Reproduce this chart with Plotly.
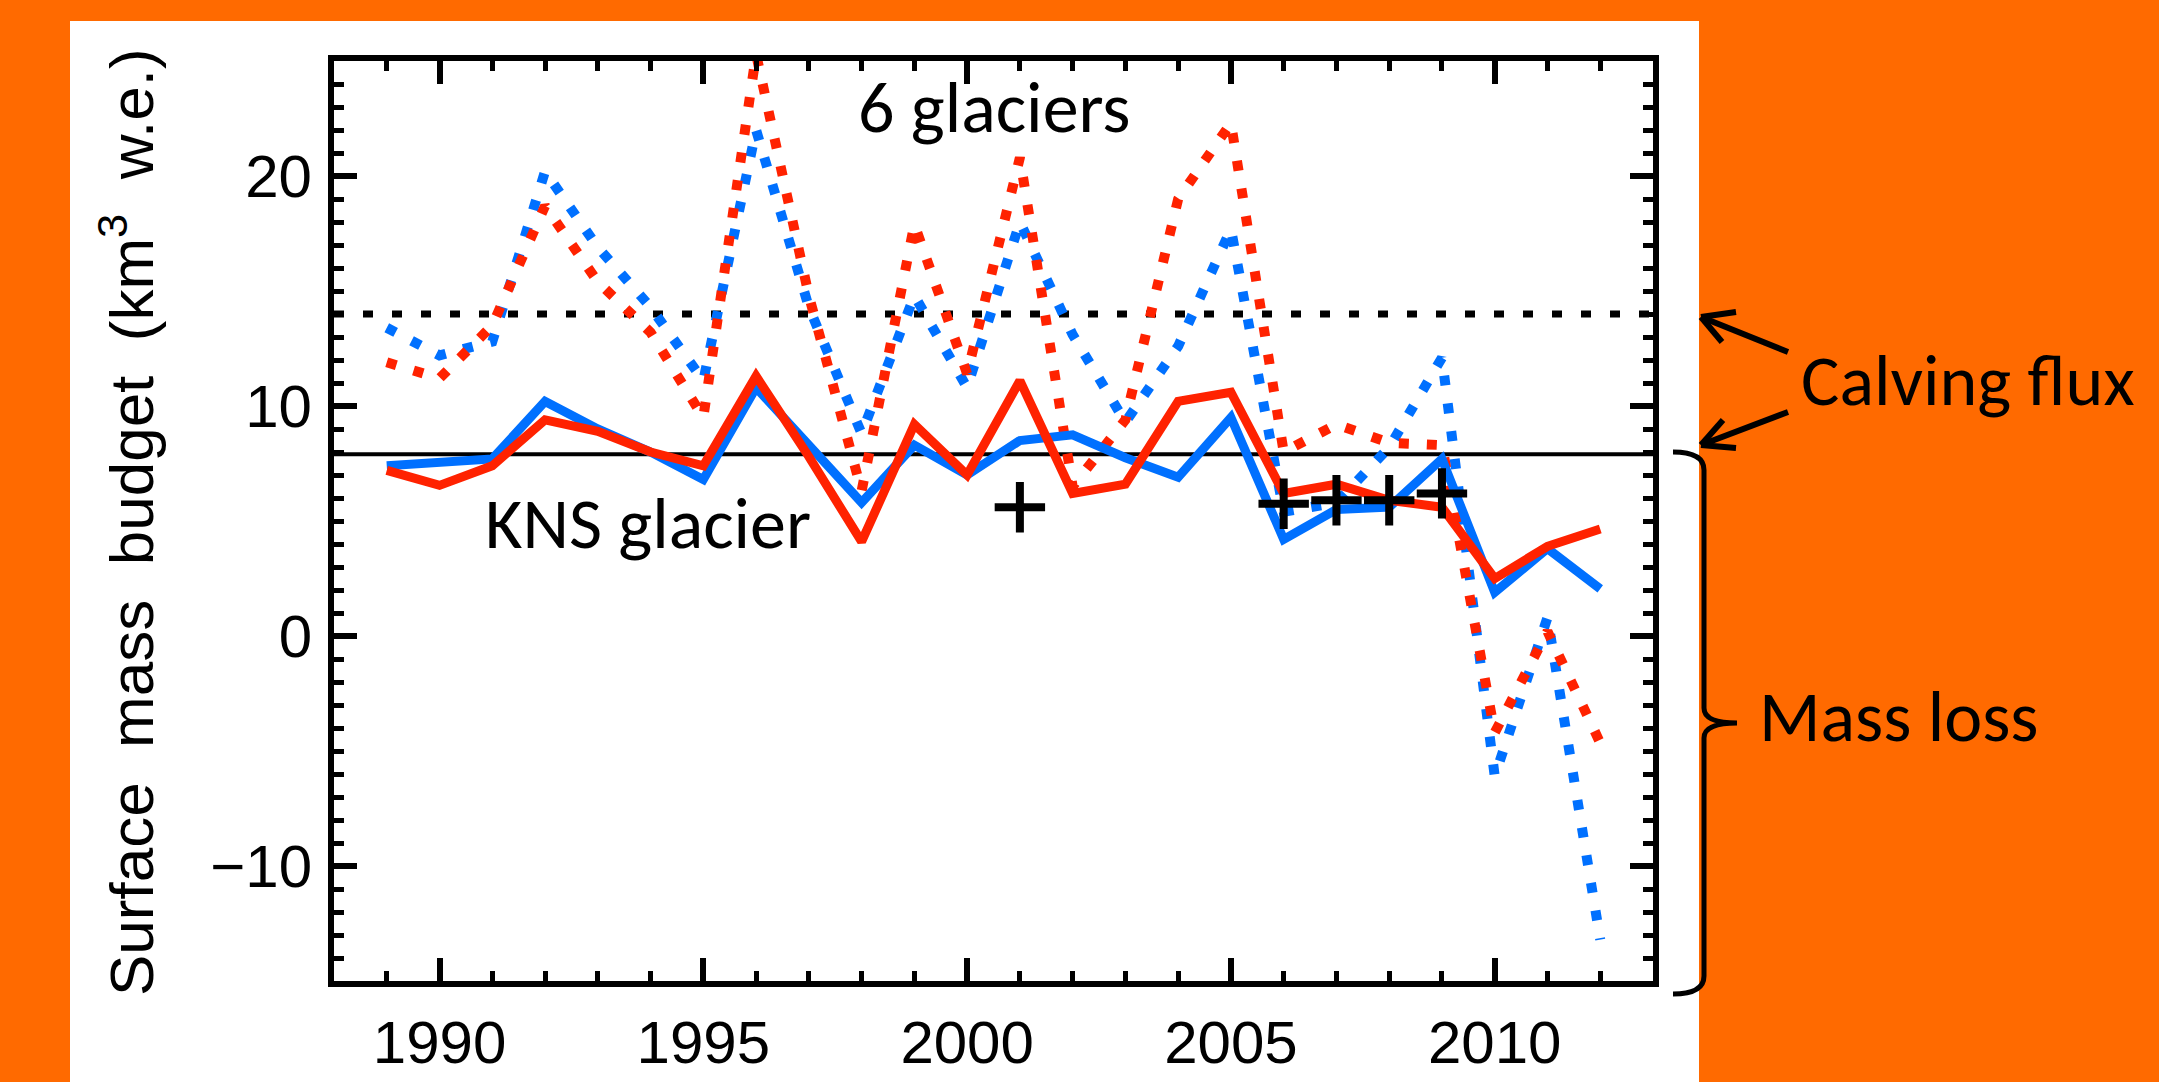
import plotly.graph_objects as go

# ---------------- data ----------------
years = list(range(1989, 2013))

kns_model_a = [7.4, 7.55, 7.7, 10.2, 9.0, 8.0, 6.8, 10.8, 8.3, 5.8, 8.3, 7.0,
               8.5, 8.75, 7.75, 6.9, 9.5, 4.2, 5.5, 5.6, 7.7, 1.9, 3.8, 2.05]
kns_model_b = [7.2, 6.55, 7.4, 9.4, 8.9, 8.0, 7.4, 11.3, 7.8, 4.1, 9.2, 7.0,
               11.1, 6.2, 6.6, 10.2, 10.6, 6.2, 6.6, 5.9, 5.6, 2.5, 3.9, 4.65]
six_model_a = [13.4, 12.2, 12.8, 20.2, 16.9, 14.3, 11.1, 22.0, 14.3, 8.8, 14.8, 10.8,
               18.0, 13.1, 9.3, 12.6, 17.7, 5.4, 5.8, 8.2, 12.1, -6.1, 0.8, -13.2]
six_model_b = [11.9, 11.2, 13.5, 18.7, 15.4, 13.2, 9.5, 25.3, 14.8, 6.3, 17.9, 11.4,
               20.8, 6.5, 9.4, 19.0, 22.3, 8.0, 9.2, 8.4, 8.3, -4.2, 0.2, -4.65]

obs_years = [2001, 2006, 2007, 2008, 2009]
obs_values = [5.6, 5.75, 5.9, 5.9, 6.2]

calving_six = 14.0
calving_kns = 7.9

x_range = [1988, 2013]
y_range = [-15, 25]
x_ticks = [1990, 1995, 2000, 2005, 2010]
y_ticks = [-10, 0, 10, 20]

# ---------------- style ----------------
BLUE = "#0070FF"
RED = "#FF2200"
ORANGE = "#FF6A00"
W, H = 2159, 1082
L, R, T, B = 334, 1653, 61, 981
PW, PH = R - L, B - T


def fx(px):
    return (px - L) / PW


def fy(py):
    return (B - py) / PH


fig = go.Figure()

# reference calving-flux lines
fig.add_trace(go.Scatter(x=x_range, y=[calving_six] * 2, mode="lines",
                         line=dict(color="black", width=7, dash="10px,19px"),
                         showlegend=False, hoverinfo="skip"))
fig.add_trace(go.Scatter(x=x_range, y=[calving_kns] * 2, mode="lines",
                         line=dict(color="black", width=4),
                         showlegend=False, hoverinfo="skip"))

# 6 glaciers (dotted)
fig.add_trace(go.Scatter(x=years, y=six_model_a, mode="lines",
                         line=dict(color=BLUE, width=10, dash="10px,18px"),
                         showlegend=False))
fig.add_trace(go.Scatter(x=years, y=six_model_b, mode="lines",
                         line=dict(color=RED, width=10, dash="10px,18px"),
                         showlegend=False))
# KNS glacier (solid)
fig.add_trace(go.Scatter(x=years, y=kns_model_a, mode="lines",
                         line=dict(color=BLUE, width=9),
                         showlegend=False))
fig.add_trace(go.Scatter(x=years, y=kns_model_b, mode="lines",
                         line=dict(color=RED, width=9),
                         showlegend=False))
# observations
fig.add_trace(go.Scatter(x=obs_years, y=obs_values, mode="markers",
                         marker=dict(symbol="cross-thin", size=36,
                                     line=dict(color="black", width=8)),
                         showlegend=False))

# white panel behind the plot
shapes = [dict(type="rect", xref="paper", yref="paper",
               x0=fx(70), x1=fx(1699), y0=fy(1100), y1=fy(21),
               fillcolor="white", line=dict(width=0), layer="below")]

# arrows to the calving-flux lines
arrow_line = dict(color="black", width=6)
for tail, tip, a1, a2 in [((1788, 352), (1701, 317), (1736, 312), (1722, 342)),
                          ((1788, 412), (1701, 445), (1736, 448), (1723, 420))]:
    for p0, p1 in [(tail, tip), (tip, a1), (tip, a2)]:
        shapes.append(dict(type="line", xref="paper", yref="paper",
                           x0=fx(p0[0]), y0=fy(p0[1]), x1=fx(p1[0]), y1=fy(p1[1]),
                           line=arrow_line, layer="above"))

# curly brace for mass loss
bx, top, mid, bot, lx, tipx = 1704, 452, 723, 994, 1673, 1737
path = (f"M{fx(lx)},{fy(top)} Q{fx(bx)},{fy(top)} {fx(bx)},{fy(top+18)} "
        f"L{fx(bx)},{fy(mid-15)} Q{fx(bx)},{fy(mid)} {fx(tipx)},{fy(mid)} "
        f"Q{fx(bx)},{fy(mid)} {fx(bx)},{fy(mid+15)} "
        f"L{fx(bx)},{fy(bot-18)} Q{fx(bx)},{fy(bot)} {fx(lx)},{fy(bot)}")
shapes.append(dict(type="path", xref="paper", yref="paper", path=path,
                   line=dict(color="black", width=5), layer="above"))

label_font = dict(family="Calibri, Carlito, Lato, sans-serif", size=72, color="black")
annotations = [
    dict(text="6 glaciers", x=fx(994), y=fy(107), xanchor="center", yanchor="middle"),
    dict(text="KNS glacier", x=fx(648), y=fy(523), xanchor="center", yanchor="middle"),
    dict(text="Calving flux", x=fx(1799), y=fy(380), xanchor="left", yanchor="middle"),
    dict(text="Mass loss", x=fx(1757), y=fy(716), xanchor="left", yanchor="middle"),
]
for a in annotations:
    a.update(xref="paper", yref="paper", showarrow=False, font=label_font)

annotations.append(dict(
    text="Surface  mass  budget  (km<sup>3</sup>  w.e.)",
    xref="paper", yref="paper", x=fx(127), y=fy(522), textangle=-90,
    xanchor="center", yanchor="middle", showarrow=False,
    font=dict(family="Liberation Sans, Arial, sans-serif", size=62, color="black")))

axis_common = dict(showline=True, linecolor="black", linewidth=6, mirror="allticks",
                   ticks="inside", ticklen=23, tickwidth=6, tickcolor="black",
                   showgrid=False, zeroline=False, automargin=False,
                   tickfont=dict(family="Liberation Sans, Arial, sans-serif",
                                 size=60, color="black"))

fig.update_layout(
    width=W, height=H,
    margin=dict(l=L, r=W - R, t=T, b=H - B, pad=0, autoexpand=False),
    paper_bgcolor=ORANGE, plot_bgcolor="white",
    xaxis=dict(range=x_range, tickvals=x_ticks, ticklabelstandoff=4,
               minor=dict(dtick=1, tick0=1988, ticks="inside", ticklen=10,
                          tickwidth=5, tickcolor="black"),
               **axis_common),
    yaxis=dict(range=y_range, tickvals=y_ticks, ticklabelstandoff=4,
               minor=dict(dtick=1, tick0=0, ticks="inside", ticklen=10,
                          tickwidth=5, tickcolor="black"),
               **axis_common),
    shapes=shapes,
    annotations=annotations,
    showlegend=False,
)

fig.write_html("out.html")
